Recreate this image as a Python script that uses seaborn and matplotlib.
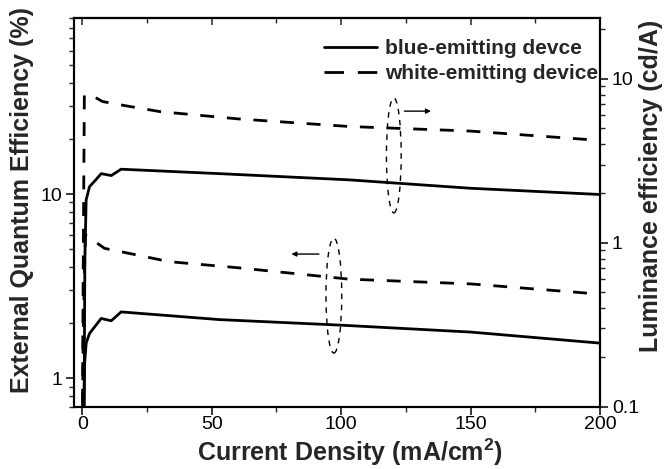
import numpy as np
import pandas as pd
import matplotlib
matplotlib.use("Agg")
import matplotlib.pyplot as plt
import seaborn as sns
from matplotlib.patches import Ellipse
from matplotlib.lines import Line2D
from matplotlib.ticker import FixedLocator, FuncFormatter, MultipleLocator, LogLocator, NullFormatter

# ---- data ----
# blue-emitting device
blue_eqe_x = [0.5, 0.9, 1.5, 2.8, 7.3, 11.2, 15.0, 53, 100, 150, 200]
blue_eqe_y = [0.5, 1.2, 1.55, 1.75, 2.11, 2.05, 2.29, 2.08, 1.94, 1.78, 1.55]
blue_le_x = [0.6, 1.0, 1.5, 2.8, 4.7, 7.3, 11.2, 15.0, 53, 103, 150, 200]
blue_le_y = [0.05, 0.8, 1.83, 2.2, 2.37, 2.64, 2.57, 2.81, 2.64, 2.42, 2.15, 1.97]
# white-emitting device
white_eqe_x = [0.0, 0.4, 1.2, 8.6, 33.7, 60, 103, 150, 200]
white_eqe_y = [0.5, 2.0, 6.0, 5.07, 4.29, 3.98, 3.45, 3.25, 2.86]
white_le_x = [0.0, 0.3, 0.8, 3.8, 7.8, 17, 30, 60, 103, 150, 200]
white_le_y = [0.05, 0.5, 8.0, 7.9, 7.27, 6.84, 6.31, 5.7, 5.12, 4.8, 4.21]

legend_labels = ["blue-emitting devce", "white-emitting device"]
x_label = "Current Density (mA/cm$^2$)"
left_label = "External Quantum Efficiency (%)"
right_label = "Luminance efficiency (cd/A)"

sns.set_style("ticks")
plt.rcParams['font.family'] = ['Liberation Sans', 'DejaVu Sans']
plt.rcParams['mathtext.fontset'] = 'custom'
plt.rcParams['mathtext.rm'] = 'Liberation Sans:bold'
plt.rcParams['mathtext.bf'] = 'Liberation Sans:bold'

fig = plt.figure(figsize=(6.7, 4.69), dpi=100)
ax = fig.add_axes([74 / 670, 1 - 406.7 / 469, 526 / 670, 388.4 / 469])
ax2 = ax.twinx()

lw = 2.0
dash = (5.0, 4.6)

df_be = pd.DataFrame({"x": blue_eqe_x, "y": blue_eqe_y})
df_bl = pd.DataFrame({"x": blue_le_x, "y": blue_le_y})
df_we = pd.DataFrame({"x": white_eqe_x, "y": white_eqe_y})
df_wl = pd.DataFrame({"x": white_le_x, "y": white_le_y})

sns.lineplot(data=df_be, x="x", y="y", ax=ax, color="black", lw=lw, estimator=None, sort=False, legend=False)
sns.lineplot(data=df_we, x="x", y="y", ax=ax, color="black", lw=lw, estimator=None, sort=False, legend=False,
             dashes=False, linestyle=(0, dash))
sns.lineplot(data=df_bl, x="x", y="y", ax=ax2, color="black", lw=lw, estimator=None, sort=False, legend=False)
sns.lineplot(data=df_wl, x="x", y="y", ax=ax2, color="black", lw=lw, estimator=None, sort=False, legend=False,
             dashes=False, linestyle=(0, dash))

for a in (ax, ax2):
    a.set_xlabel("")
    a.set_ylabel("")

ax.set_yscale("log")
ax2.set_yscale("log")
ax.set_xlim(-3.2, 200)
ax.set_ylim(0.7, 90)
ax2.set_ylim(0.1, 23.4)

fmt = FuncFormatter(lambda v, p: f"{v:g}")
ax.yaxis.set_major_locator(FixedLocator([1, 10]))
ax.yaxis.set_major_formatter(fmt)
ax.yaxis.set_minor_locator(LogLocator(base=10, subs=np.arange(2, 10) * 1.0, numticks=20))
ax.yaxis.set_minor_formatter(NullFormatter())
ax2.yaxis.set_major_locator(FixedLocator([0.1, 1, 10]))
ax2.yaxis.set_major_formatter(fmt)
ax2.yaxis.set_minor_locator(LogLocator(base=10, subs=np.arange(2, 10) * 1.0, numticks=20))
ax2.yaxis.set_minor_formatter(NullFormatter())
ax.xaxis.set_major_locator(MultipleLocator(50))
ax.xaxis.set_minor_locator(MultipleLocator(25))

for a in (ax, ax2):
    for s in a.spines.values():
        s.set_linewidth(1.5)
        s.set_color("black")
    a.tick_params(which="major", length=6, width=1.1, labelsize=14, colors="black", direction="out", pad=2.5)
    a.tick_params(which="minor", length=3.5, width=1.0, direction="out")
ax.tick_params(axis="x", which="major", pad=1.0)

sec = ax.secondary_xaxis("top")
sec.xaxis.set_major_locator(MultipleLocator(50))
sec.xaxis.set_minor_locator(MultipleLocator(25))
sec.tick_params(which="major", direction="in", length=5, width=1.1, labeltop=False)
sec.tick_params(which="minor", direction="in", length=3.5, width=1.0)
sec.spines["top"].set_linewidth(1.5)

fig.text(350 / 670, 1 - 461 / 469, x_label, ha="center", va="baseline",
         fontsize=18, fontweight="bold")
fig.text(22 / 670, 1 - 200 / 469, left_label, rotation=90, ha="center", va="center",
         fontsize=18, fontweight="bold")
fig.text(651 / 670, 1 - 186 / 469, right_label, rotation=90, ha="center", va="center",
         fontsize=18, fontweight="bold")

# annotations: dashed ellipses with arrows
ax2.add_patch(Ellipse((0.608, 0.647), 0.028, 0.296, transform=ax.transAxes, fill=False,
                      ls=(0, (4, 4)), lw=1.0, ec="black"))
ax2.add_patch(Ellipse((0.494, 0.286), 0.030, 0.296, transform=ax.transAxes, fill=False,
                      ls=(0, (4, 4)), lw=1.0, ec="black"))
ax2.annotate("", xy=(0.684, 0.761), xytext=(0.623, 0.761), xycoords="axes fraction",
             arrowprops=dict(arrowstyle="-|>", lw=1.0, color="black", mutation_scale=7))
ax2.annotate("", xy=(0.408, 0.393), xytext=(0.471, 0.393), xycoords="axes fraction",
             arrowprops=dict(arrowstyle="-|>", lw=1.0, color="black", mutation_scale=7))

handles = [Line2D([], [], color="black", lw=lw),
           Line2D([], [], color="black", lw=lw, linestyle=(0, (7, 5)))]
leg = ax2.legend(handles, legend_labels, loc="upper left",
                 bbox_to_anchor=(324 / 670, 1 - 39 / 469), bbox_transform=fig.transFigure,
                 frameon=False, borderpad=0, borderaxespad=0, handlelength=2.55,
                 handletextpad=0.38, labelspacing=0.3,
                 prop={"weight": "bold", "size": 15})

fig.savefig("out.png", dpi=100)
